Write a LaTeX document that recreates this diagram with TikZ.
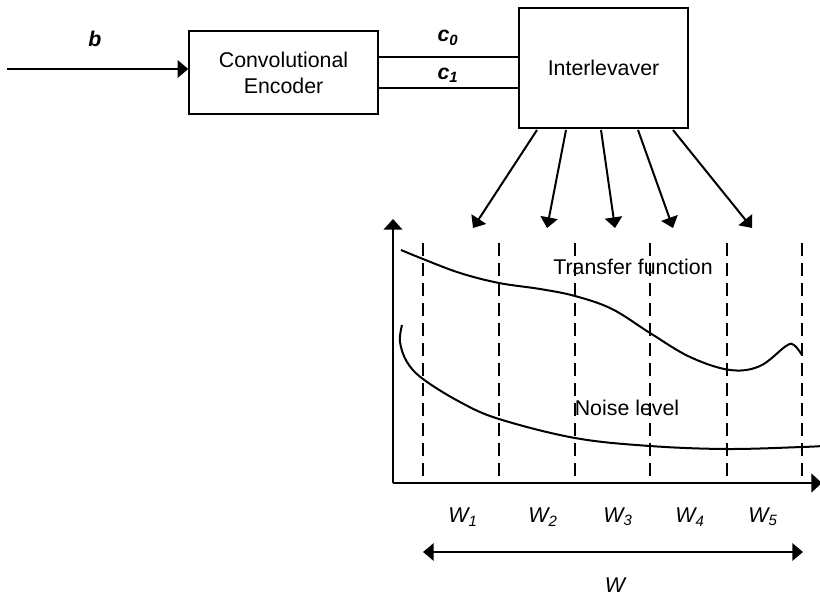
\documentclass[tikz,border=0pt]{standalone}
\usepackage{fontspec}
\setmainfont{Liberation Sans}
\usetikzlibrary{arrows.meta}

\begin{document}
\begin{tikzpicture}[%
		x=0.75pt, y=-0.75pt,
		font=\fontsize{16}{19.5}\selectfont,
		block/.style={
			rectangle,
			draw,
			line width=1pt,
			inner sep=0pt,
			align=center
		},
		flowarrow/.style={
			line width=1.5pt,
			-{Triangle[length=8pt,width=13pt]}
		},
		busline/.style={
			line width=1.5pt
		},
		axisline/.style={
			line width=1.5pt,
			-{Triangle[length=8pt,width=14pt]}
		},
		window/.style={
			line width=1.5pt,
			dash pattern=on 10pt off 5pt
		},
		spanarrow/.style={
			line width=1.5pt,
			{Triangle[length=8pt,width=13pt]}-{Triangle[length=8pt,width=13pt]}
		},
		curveline/.style={
			line width=1.5pt
		},
		sigtext/.style={
			font=\fontsize{16}{19.5}\selectfont\bfseries\itshape
		},
		wtext/.style={
			font=\fontsize{16}{19.5}\selectfont\itshape
		}]

		\useasboundingbox (0,0) rectangle (820,595);

		% BLOCKS

		\node (enc) [block, minimum width=141.75pt, minimum height=62.25pt] at (283.5,72.5) {Convolutional\\Encoder};
		\node (ilv) [block, minimum width=126.75pt, minimum height=90pt] at (603.5,68) {Interlevaver};

		\coordinate (in) at (7,69);
		\coordinate (c0-out) at (378,57);
		\coordinate (c1-out) at (378,88);

		\node (b-lab) [sigtext] at (95,39) {b};
		\node (c0-lab) [sigtext] at (448,38) {c\textsubscript{0}};
		\node (c1-lab) [sigtext] at (448,75) {c\textsubscript{1}};

		% BLOCK LINES

		\draw[flowarrow] (in) -- (in -| enc.west);
		\draw[busline] (c0-out) -- (c0-out -| ilv.west);
		\draw[busline] (c1-out) -- (c1-out -| ilv.west);

		\foreach \s/\t [count=\i] in {537/473, 566/547, 601/615, 638/673, 673/752} {
			\coordinate (ilv-o\i) at (\s,130);
			\coordinate (win-in\i) at (\t,228);
			\draw[flowarrow] (ilv-o\i) -- (win-in\i);
		}

		% CHANNEL PLOT

		\coordinate (origin) at (393,483);
		\coordinate (ytop) at (393,219);
		\coordinate (xend) at (822,483);
		\draw[axisline] (origin) -- (ytop);
		\draw[axisline] (origin) -- (xend);

		\foreach \x [count=\i] in {423, 499, 575, 650, 727, 802} {
			\coordinate (d\i-top) at (\x,243);
			\draw[window] (d\i-top) -- (d\i-top |- origin);
		}

		\draw[curveline] plot[smooth, tension=0.6] coordinates {(401,250) (423,259) (460,273) (499,283) (540,289) (575,296) (612,309) (650,333) (690,357) (730,370) (760,366) (786,346) (794,345) (802,355)};
		\draw[curveline] plot[smooth, tension=0.6] coordinates {(402,325) (400,342) (407,362) (423,379) (460,402) (499,419) (575,438) (650,446) (727,449) (802,447) (822,446)};

		\node (tf-lab) at (633,267) {Transfer function};
		\node (nl-lab) at (627,408) {Noise level};

		\foreach \x [count=\i] in {463, 543, 618, 690, 763} {
			\node (w\i) [wtext] at (\x,517) {W\textsubscript{\i}};
		}

		\coordinate (span-l) at (423,552);
		\coordinate (span-r) at (803,552);
		\draw[spanarrow] (span-l) -- (span-r);
		\node (w-lab) [wtext] at (615,585) {W};
\end{tikzpicture}
\end{document}
